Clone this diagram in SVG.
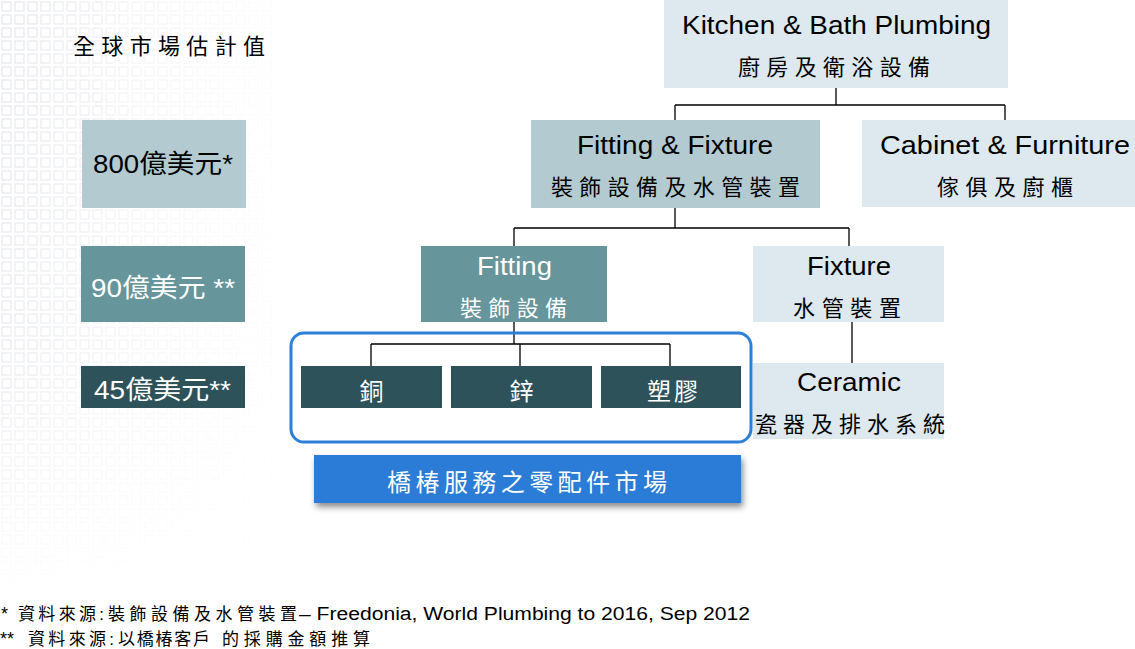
<svg xmlns="http://www.w3.org/2000/svg" width="1135" height="649" viewBox="0 0 1135 649">
  <style>
    .en { font-family: "Liberation Sans", "Noto Sans CJK TC", sans-serif; font-size: 26px; fill: #000; }
    .zh { font-family: "Noto Sans CJK TC", sans-serif; font-size: 22px; fill: #000; }
    .w { fill: #fff; }
    .light { fill: #DDE9EE; }
    .midlight { fill: #B3CBD0; }
    .mid { fill: #66959B; }
    .dark { fill: #2D525A; }
    .conn { stroke: #000; stroke-width: 1.3; fill: none; }
    .foot { font-family: "Liberation Sans", "Noto Sans CJK TC", sans-serif; font-size: 18px; fill: #000; }
    .fzh { font-size: 17px; }
  </style>
  <defs>
    <pattern id="grid" x="0" y="0" width="13" height="13" patternUnits="userSpaceOnUse">
      <rect x="2" y="2" width="9" height="9" fill="none" stroke="#c4c8d2" stroke-width="1"/>
    </pattern>
    <linearGradient id="fadeX" x1="0" y1="0" x2="1" y2="0">
      <stop offset="0" stop-color="#fff" stop-opacity="0.85"/>
      <stop offset="0.45" stop-color="#fff" stop-opacity="0.35"/>
      <stop offset="1" stop-color="#fff" stop-opacity="0"/>
    </linearGradient>
    <linearGradient id="fadeY" x1="0" y1="0" x2="0" y2="1">
      <stop offset="0" stop-color="#fff" stop-opacity="1"/>
      <stop offset="0.6" stop-color="#fff" stop-opacity="0.8"/>
      <stop offset="1" stop-color="#fff" stop-opacity="0"/>
    </linearGradient>
    <mask id="gridMask" maskUnits="userSpaceOnUse" x="0" y="0" width="300" height="600">
      <rect x="0" y="0" width="300" height="600" fill="url(#fadeX)"/>
    </mask>
    <mask id="gridMaskY" maskUnits="userSpaceOnUse" x="0" y="0" width="300" height="600">
      <rect x="0" y="0" width="300" height="600" fill="url(#fadeY)"/>
    </mask>
    <filter id="shadow" x="-5%" y="-30%" width="112%" height="170%">
      <feDropShadow dx="2" dy="4" stdDeviation="3" flood-color="#000" flood-opacity="0.45"/>
    </filter>
  </defs>

  <rect x="0" y="0" width="1135" height="649" fill="#fff"/>
  <g id="background" mask="url(#gridMaskY)">
    <rect x="0" y="0" width="300" height="600" fill="url(#grid)" mask="url(#gridMask)" opacity="0.65"/>
  </g>

  <g id="title">
    <text class="zh" x="73" y="54" textLength="192" lengthAdjust="spacing">全球市場估計值</text>
  </g>

  <g id="connectors">
    <path class="conn" d="M836 88 V105 M675 105 H1005 M675 105 V120 M1005 105 V120"/>
    <path class="conn" d="M675 208 V228 M514 228 H849 M514 228 V246 M849 228 V246"/>
    <path class="conn" d="M852 322 V366"/>
    <path class="conn" d="M514 322 V344" stroke-width="2.2"/>
    <path class="conn" d="M371 344 H670 M371 344 V366 M520 344 V366 M670 344 V366"/>
  </g>

  <g id="value-800">
    <rect class="midlight" x="82" y="120" width="164" height="88"/>
    <text class="en" x="93" y="173" textLength="140" lengthAdjust="spacingAndGlyphs">800億美元*</text>
  </g>
  <g id="value-90">
    <rect class="mid" x="81" y="246" width="164" height="76"/>
    <text class="en w" x="91" y="297" textLength="144" lengthAdjust="spacingAndGlyphs">90億美元 **</text>
  </g>
  <g id="value-45">
    <rect class="dark" x="81" y="366" width="164" height="42"/>
    <text class="en w" x="94" y="399" textLength="137" lengthAdjust="spacingAndGlyphs">45億美元**</text>
  </g>

  <g id="kitchen-bath">
    <rect class="light" x="664" y="0" width="344" height="88"/>
    <text class="en" x="682" y="34" textLength="309" lengthAdjust="spacingAndGlyphs">Kitchen &amp; Bath Plumbing</text>
    <text class="zh" x="738" y="75" textLength="192" lengthAdjust="spacing">廚房及衛浴設備</text>
  </g>

  <g id="fitting-fixture">
    <rect class="midlight" x="531" y="120" width="289" height="88"/>
    <text class="en" x="577" y="154" textLength="196" lengthAdjust="spacingAndGlyphs">Fitting &amp; Fixture</text>
    <text class="zh" x="551" y="195" textLength="249" lengthAdjust="spacing">裝飾設備及水管裝置</text>
  </g>

  <g id="cabinet-furniture">
    <rect class="light" x="862" y="120" width="273" height="87"/>
    <text class="en" x="880" y="154" textLength="250" lengthAdjust="spacingAndGlyphs">Cabinet  &amp; Furniture</text>
    <text class="zh" x="937" y="195" textLength="136" lengthAdjust="spacing">傢俱及廚櫃</text>
  </g>

  <g id="fitting">
    <rect class="mid" x="421" y="246" width="186" height="76"/>
    <text class="en w" x="477" y="275" textLength="75" lengthAdjust="spacingAndGlyphs">Fitting</text>
    <text class="zh w" x="460" y="316" textLength="107" lengthAdjust="spacing">裝飾設備</text>
  </g>

  <g id="fixture">
    <rect class="light" x="753" y="246" width="191" height="76"/>
    <text class="en" x="807" y="275" textLength="84" lengthAdjust="spacingAndGlyphs">Fixture</text>
    <text class="zh" x="793" y="316" textLength="108" lengthAdjust="spacing">水管裝置</text>
  </g>

  <g id="ceramic">
    <rect class="light" x="753" y="363" width="191" height="76"/>
    <text class="en" x="797" y="391" textLength="104" lengthAdjust="spacingAndGlyphs">Ceramic</text>
    <text class="zh" x="755" y="432" textLength="190" lengthAdjust="spacing">瓷器及排水系統</text>
  </g>

  <g id="fitting-group-frame">
    <rect x="291" y="333" width="460" height="109" rx="13" ry="13" fill="none" stroke="#2E7FD8" stroke-width="3"/>
  </g>

  <g id="copper">
    <rect class="dark" x="301" y="366" width="141" height="42"/>
    <text class="zh w" x="371.5" y="400" text-anchor="middle" style="font-size:24px">銅</text>
  </g>
  <g id="zinc">
    <rect class="dark" x="451" y="366" width="141" height="42"/>
    <text class="zh w" x="521.5" y="400" text-anchor="middle" style="font-size:24px">鋅</text>
  </g>
  <g id="plastic">
    <rect class="dark" x="601" y="366" width="140" height="42"/>
    <text class="zh w" x="647" y="400" textLength="51" lengthAdjust="spacing" style="font-size:24px">塑膠</text>
  </g>

  <g id="aftermarket-banner">
    <rect x="314" y="455" width="427" height="48" fill="#2B7CD6" filter="url(#shadow)"/>
    <text class="zh w" x="387" y="491" textLength="280" lengthAdjust="spacing" style="font-size:24px">橋椿服務之零配件市場</text>
  </g>

  <g id="footnotes">
    <text class="foot" y="620"><tspan x="1">*</tspan><tspan class="fzh" x="18" textLength="86" lengthAdjust="spacing">資料來源:</tspan><tspan class="fzh" x="108" textLength="189" lengthAdjust="spacing">裝飾設備及水管裝置</tspan><tspan x="299" textLength="451" lengthAdjust="spacingAndGlyphs">– Freedonia, World Plumbing to 2016, Sep 2012</tspan></text>
    <text class="foot" y="645"><tspan x="0">**</tspan><tspan class="fzh" x="28" textLength="86" lengthAdjust="spacing">資料來源:</tspan><tspan class="fzh" x="118" textLength="92" lengthAdjust="spacing">以橋椿客戶</tspan><tspan class="fzh" x="222" textLength="148" lengthAdjust="spacing">的採購金額推算</tspan></text>
  </g>
</svg>
